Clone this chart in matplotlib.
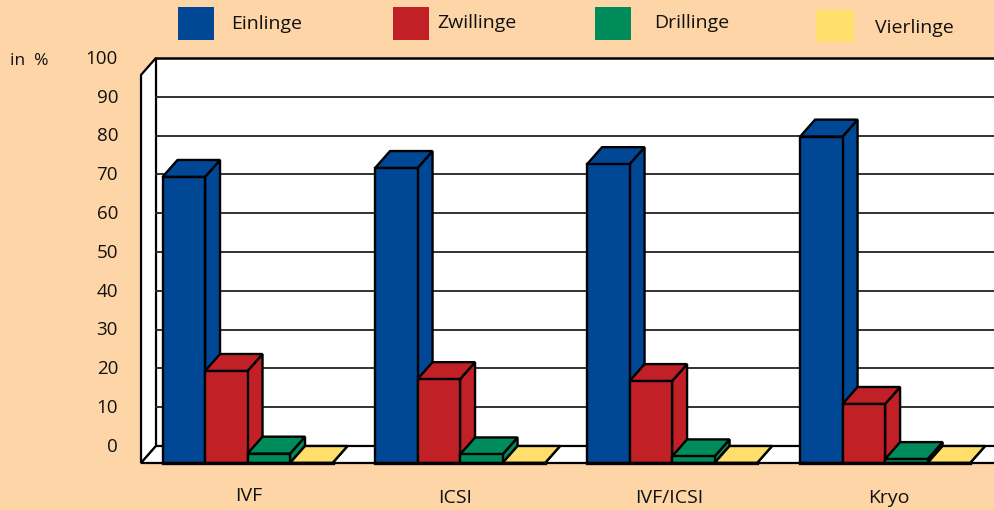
import matplotlib
matplotlib.use("Agg")
import matplotlib.pyplot as plt
from matplotlib.patches import Polygon, Rectangle

# Data
groups = ["IVF", "ICSI", "IVF/ICSI", "Kryo"]
series = ["Einlinge", "Zwillinge", "Drillinge", "Vierlinge"]
einlinge = [73.7, 76.0, 77.0, 84.1]
zwillinge = [23.7, 21.6, 21.1, 15.2]
drillinge = [2.4, 2.2, 1.7, 1.0]
vierlinge = [0.0, 0.0, 0.0, 0.0]
yticks = [0, 10, 20, 30, 40, 50, 60, 70, 80, 90, 100]

colors = ["#004795", "#c12126", "#008c5a", "#ffde6b"]
bg = "#fed5a6"

W, H = 994, 510
PX_PER_UNIT = 3.88
FLOOR_PX = 463
DX = 15
DY = 17 / PX_PER_UNIT  # depth in value units
BAR_W = 42.5
GROUP_X = [162.5, 375, 587, 800]
LABEL_X = [249, 455, 669, 889]
LABEL_Y = [496, 498, 498, 498]

plt.rcParams["font.family"] = ["Open Sans", "DejaVu Sans"]

# the extra 0.1 keeps the pixel height from being rounded down to 509
fig = plt.figure(figsize=((W + 0.1) / 100, (H + 0.1) / 100), dpi=100, facecolor=bg)
ax = fig.add_axes([0, 0, 1, 1])
ax.set_xlim(0, W)
ax.set_ylim(-(H - FLOOR_PX) / PX_PER_UNIT, FLOOR_PX / PX_PER_UNIT)
ax.axis("off")

x0 = 141
# walls and floor
ax.add_patch(Polygon([(x0 + DX, DY), (W + 5, DY), (W + 5, 100 + DY), (x0 + DX, 100 + DY)],
                     fc="white", ec="none", zorder=1))
ax.add_patch(Polygon([(x0, 0), (x0 + DX, DY), (x0 + DX, 100 + DY), (x0, 100)],
                     fc="white", ec="black", lw=1.6, zorder=2))
ax.add_patch(Polygon([(x0, 0), (x0 + DX, DY), (W + 5, DY), (W + 5, 0)],
                     fc="white", ec="black", lw=1.6, zorder=2))
for v in yticks[1:-1]:
    ax.plot([x0 + DX, W], [v + DY, v + DY], color="#222222", lw=1.3, zorder=2)
ax.plot([x0 + DX, W], [100 + DY, 100 + DY], color="black", lw=1.8, zorder=2)

# bars
z = 3
for g, gx in enumerate(GROUP_X):
    vals = [einlinge[g], zwillinge[g], drillinge[g], vierlinge[g]]
    for s, v in enumerate(vals):
        x = gx + s * BAR_W
        c = colors[s]
        kw = dict(fc=c, ec="black", lw=1.7, joinstyle="miter", zorder=z)
        ax.add_patch(Polygon([(x + BAR_W, 0), (x + BAR_W + DX, DY), (x + BAR_W + DX, v + DY), (x + BAR_W, v)], **kw))
        ax.add_patch(Polygon([(x, v), (x + DX, v + DY), (x + BAR_W + DX, v + DY), (x + BAR_W, v)], **kw))
        ax.add_patch(Rectangle((x, 0), BAR_W, v, **kw))
        z += 1
    # thick base under each group
    ax.plot([gx, gx + 4 * BAR_W], [0, 0], color="black", lw=2.4, zorder=z)
    z += 1

# value labels on the left
for v in yticks:
    ax.text(118, v + DY - 0.2, str(v), ha="right", va="center", fontsize=13.5, color="#111111")
ax.text(29, (FLOOR_PX - 61) / PX_PER_UNIT, "in  %", ha="center", va="center", fontsize=12.5, color="#111111")

# group labels
for name, lx, ly in zip(groups, LABEL_X, LABEL_Y):
    ax.text(lx, (FLOOR_PX - ly) / PX_PER_UNIT, name, ha="center", va="center", fontsize=14, color="#111111")

# legend
leg_boxes = [(178, 7, 36, 33), (393, 7, 36, 33), (595, 7, 36, 33), (816, 10, 38, 32)]
leg_text = [(267, 23.5), (477, 23), (692, 23), (914, 27.5)]
for name, c, (bx, by, bw, bh), (tx, ty) in zip(series, colors, leg_boxes, leg_text):
    ax.add_patch(Rectangle((bx, (FLOOR_PX - by - bh) / PX_PER_UNIT), bw, bh / PX_PER_UNIT, fc=c, ec="none"))
    ax.text(tx, (FLOOR_PX - ty) / PX_PER_UNIT, name, ha="center", va="center", fontsize=14, color="#111111")

fig.savefig("out.png", dpi=100, facecolor=bg)
